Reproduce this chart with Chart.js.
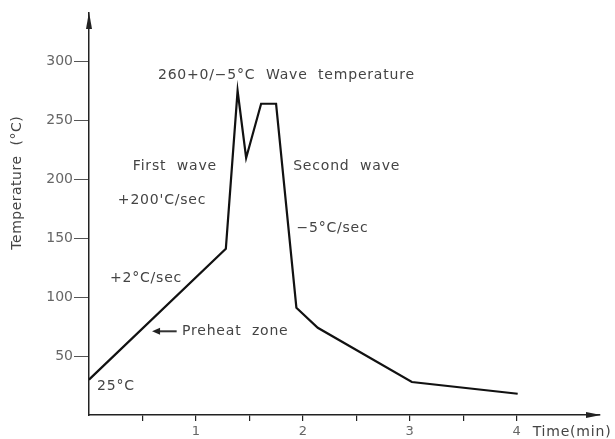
<!DOCTYPE html>
<html>
<head>
<meta charset="utf-8">
<script src="https://cdn.jsdelivr.net/npm/chart.js@4"></script>
<style>
  html, body { margin:0; padding:0; background:#fff; }
  #wrap { width:615px; height:439px; }
</style>
</head>
<body>
<div id="wrap"><canvas id="chart" width="615" height="439"></canvas></div>
<script>
// wave soldering temperature profile
const timeMin = [0, 1.28, 1.39, 1.47, 1.61, 1.75, 1.94, 2.14, 3.02, 4.01];
const tempC   = [30, 141, 275, 218, 264, 264, 91, 74, 28, 18];

const xTicks = [0.5, 1, 1.5, 2, 2.5, 3, 3.5, 4];
const yTicks = [50, 100, 150, 200, 250, 300];

// text notes, placed in data units (time, temperature)
const notes = [
  { text: '260+0/\u22125\u00b0C  Wave  temperature', x: 0.645, y: 288 },
  { text: 'First  wave', x: 0.41, y: 211 },
  { text: "+200'C/sec", x: 0.27, y: 182 },
  { text: 'Second  wave', x: 1.91, y: 211 },
  { text: '\u22125\u00b0C/sec', x: 1.94, y: 158.5 },
  { text: '+2\u00b0C/sec', x: 0.196, y: 116 },
  { text: 'Preheat  zone', x: 0.87, y: 71 },
  { text: '25\u00b0C', x: 0.075, y: 24 },
  { text: 'Time(min)', x: 4.15, y: -15 }
];
const arrowNote = { from: 0.82, to: 0.59, y: 71 };

const textColor = '#444';
const axisColor = '#222';
const fontFamily = '"DejaVu Sans", Verdana, sans-serif';

Chart.defaults.font.family = fontFamily;
Chart.defaults.color = textColor;

const extras = {
  id: 'extras',
  afterDraw(chart){
    const {ctx, scales:{x, y}, chartArea} = chart;
    ctx.save();

    // axis arrowheads
    ctx.fillStyle = axisColor;
    ctx.beginPath();
    ctx.moveTo(chartArea.left, chartArea.top - 1);
    ctx.lineTo(chartArea.left - 3, chartArea.top + 16);
    ctx.lineTo(chartArea.left + 3, chartArea.top + 16);
    ctx.closePath(); ctx.fill();
    ctx.beginPath();
    ctx.moveTo(chartArea.right + 1, chartArea.bottom);
    ctx.lineTo(chartArea.right - 14, chartArea.bottom - 3);
    ctx.lineTo(chartArea.right - 14, chartArea.bottom + 3);
    ctx.closePath(); ctx.fill();

    // notes
    ctx.fillStyle = textColor;
    ctx.font = '14px ' + fontFamily;
    ctx.letterSpacing = '0.8px';
    ctx.textAlign = 'left';
    ctx.textBaseline = 'middle';
    notes.forEach(n => {
      ctx.fillText(n.text, x.getPixelForValue(n.x), y.getPixelForValue(n.y));
    });

    // preheat arrow
    const ay = y.getPixelForValue(arrowNote.y);
    const ax1 = x.getPixelForValue(arrowNote.from);
    const ax2 = x.getPixelForValue(arrowNote.to);
    ctx.strokeStyle = '#333';
    ctx.lineWidth = 2;
    ctx.beginPath(); ctx.moveTo(ax1, ay); ctx.lineTo(ax2 + 6, ay); ctx.stroke();
    ctx.fillStyle = '#222';
    ctx.beginPath();
    ctx.moveTo(ax2, ay);
    ctx.lineTo(ax2 + 8, ay - 3.5);
    ctx.lineTo(ax2 + 8, ay + 3.5);
    ctx.closePath(); ctx.fill();

    // y axis title
    ctx.fillStyle = textColor;
    ctx.font = '14px ' + fontFamily;
    ctx.letterSpacing = '0.5px';
    ctx.textAlign = 'center';
    ctx.translate(17, y.getPixelForValue(197));
    ctx.rotate(-Math.PI / 2);
    ctx.fillText('Temperature  (\u00b0C)', 0, 0);
    ctx.restore();
  }
};

new Chart(document.getElementById('chart').getContext('2d'), {
  type: 'scatter',
  data: {
    datasets: [{
      data: timeMin.map((t, i) => ({ x: t, y: tempC[i] })),
      showLine: true,
      borderColor: '#111',
      borderWidth: 2.2,
      pointRadius: 0,
      tension: 0
    }]
  },
  options: {
    responsive: false,
    animation: false,
    layout: { padding: { top: 13, right: 15, left: 0, bottom: 0 } },
    plugins: { legend: { display: false }, tooltip: { enabled: false } },
    scales: {
      x: {
        type: 'linear', min: 0, max: 4.78,
        afterFit: s => { s.height = 24; },
        afterBuildTicks: s => { s.ticks = xTicks.map(v => ({ value: v })); },
        ticks: {
          padding: 3,
          font: { size: 13 },
          color: '#666',
          callback: v => Number.isInteger(v) ? String(v) : ''
        },
        grid: { drawOnChartArea: false, tickLength: 6, color: axisColor, lineWidth: 1.2 },
        border: { color: axisColor, width: 1.5, dash: [3, 1] }
      },
      y: {
        min: 0, max: 341,
        afterFit: s => { s.width = 89; },
        afterBuildTicks: s => { s.ticks = yTicks.map(v => ({ value: v })); },
        ticks: { padding: 1, font: { size: 14 }, color: '#666' },
        grid: { drawOnChartArea: false, tickLength: 15, color: '#555', lineWidth: 1 },
        border: { color: axisColor, width: 1.5, dash: [3, 1] }
      }
    }
  },
  plugins: [extras]
});
</script>
</body>
</html>
